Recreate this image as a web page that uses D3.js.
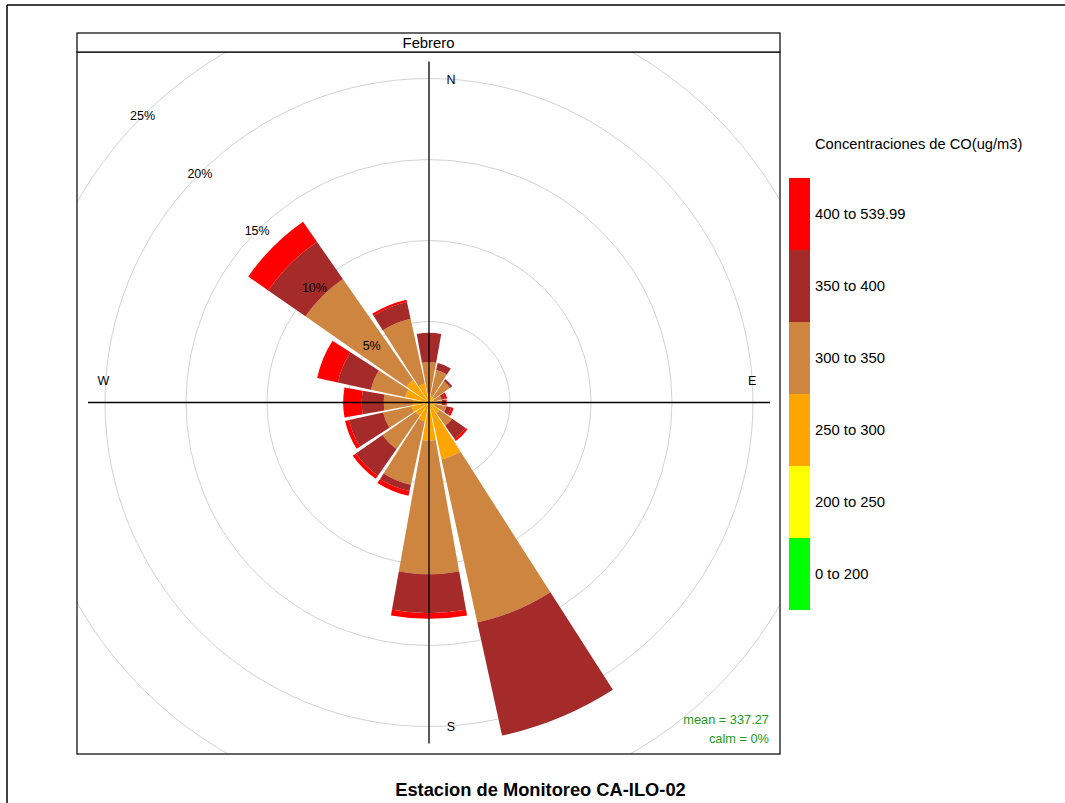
<!DOCTYPE html>
<html><head><meta charset="utf-8">
<script src="https://cdn.jsdelivr.net/npm/d3@7"></script>
<style>body{margin:0;background:#fff}svg{display:block;font-family:"Liberation Sans",Arial,sans-serif}</style>
</head><body><svg id="c" width="1065" height="803"></svg>
<script>
// ---- data (percent of time, per concentration band, per direction) ----
const directions = [0, 22.5, 45, 67.5, 90, 112.5, 135, 157.5, 180, 202.5, 225, 247.5, 270, 292.5, 315, 337.5];
const bandLabels = ["0 to 200", "200 to 250", "250 to 300", "300 to 350", "350 to 400", "400 to 539.99"];
const bandColors = ["#00FF00", "#FFFF00", "#FFA500", "#CD853F", "#A52A2A", "#FF0000"];
const band0to200   = [0,0,0,0,0,0,0,0,0,0,0,0,0,0,0,0];
const band200to250 = [0,0,0,0,0,0,0,0,0,0,0,0,0,0,0,0];
const band250to300 = [0.5,0.4,0.4,0.3,0.3,0.4,0.8,3.6,2.35,1.2,1.0,1.1,1.0,1.5,1.7,1.2];
const band300to350 = [2.0,1.65,1.2,0.5,0.5,0.7,0.95,10.3,8.25,4.0,2.5,1.8,1.8,2.17,7.6,4.1];
const band350to400 = [1.8,0.45,0.15,0.2,0.25,0.3,1.0,7.15,2.4,0.4,2.0,2.15,1.35,2.09,2.8,1.05];
const band400to540 = [0,0,0,0.15,0.05,0.15,0.15,0,0.35,0.3,0.24,0.25,1.15,1.31,1.5,0.15];
const gridValues = [5, 10, 15, 20, 25];
const compassLabels = ["N", "E", "S", "W"];
const panelTitle = "Febrero";
const legendTitle = "Concentraciones de CO(ug/m3)";
const mainTitle = "Estacion de Monitoreo CA-ILO-02";
const meanText = "mean = 337.27";
const calmText = "calm = 0%";

const bands = [band0to200, band200to250, band250to300, band300to350, band350to400, band400to540];

// ---- layout ----
const svg = d3.select("#c");
const P = {x0: 77, x1: 780, y0: 52, y1: 754, stripTop: 33};
const cx = 429, cy = 402.5;
const r = d3.scaleLinear().domain([0, 25]).range([0, 405]);
const segFrac = 0.9, sector = 22.5;
const rad = d => d * Math.PI / 180;

// outer frame
svg.append("line").attr("x1", 7).attr("x2", 1065).attr("y1", 5).attr("y2", 5).attr("stroke", "#000").attr("stroke-width", 1.5);
svg.append("line").attr("x1", 7).attr("x2", 7).attr("y1", 5).attr("y2", 803).attr("stroke", "#000").attr("stroke-width", 1.5);

svg.append("defs").append("clipPath").attr("id", "pc")
  .append("rect").attr("x", P.x0).attr("y", P.y0).attr("width", P.x1 - P.x0).attr("height", P.y1 - P.y0);
const g = svg.append("g").attr("clip-path", "url(#pc)");

// grid circles
g.selectAll("circle.grid").data(gridValues).join("circle")
  .attr("cx", cx).attr("cy", cy).attr("r", d => r(d))
  .attr("fill", "none").attr("stroke", "#D3D3D3").attr("stroke-width", 1);

// stacked petals
const arc = d3.arc();
const segs = [];
directions.forEach((dir, i) => {
  let cum = 0;
  bands.forEach((b, k) => {
    const v = b[i];
    if (v > 0) {
      segs.push({dir, inner: cum, outer: cum + v, color: bandColors[k]});
    }
    cum += v;
  });
});
g.selectAll("path.petal").data(segs).join("path")
  .attr("transform", `translate(${cx},${cy})`)
  .attr("d", d => arc({innerRadius: r(d.inner), outerRadius: r(d.outer),
      startAngle: rad(d.dir - sector * segFrac / 2), endAngle: rad(d.dir + sector * segFrac / 2)}))
  .attr("fill", d => d.color);

// axes
const totals = directions.map((_, i) => d3.sum(bands, b => b[i]));
const maxT = d3.max(totals);
g.append("line").attr("x1", cx - r(maxT)).attr("x2", cx + r(maxT)).attr("y1", cy).attr("y2", cy).attr("stroke", "#000").attr("stroke-width", 1.3);
g.append("line").attr("x1", cx).attr("x2", cx).attr("y1", cy - r(maxT)).attr("y2", cy + r(maxT)).attr("stroke", "#000").attr("stroke-width", 1.3);

// percent labels along 315 deg
g.selectAll("text.pct").data(gridValues).join("text")
  .attr("x", d => cx + r(d) * Math.sin(rad(315)))
  .attr("y", d => cy - r(d) * Math.cos(rad(315)))
  .attr("text-anchor", "middle").attr("dy", "0.35em")
  .attr("font-size", 12.5).attr("fill", "#000").text(d => d + "%");

// compass labels
const cpos = [[22, -r(19.9)], [r(19.95), -22], [22, r(20)], [-r(20.1), -22]];
g.selectAll("text.cmp").data(compassLabels).join("text")
  .attr("x", (d, i) => cx + cpos[i][0]).attr("y", (d, i) => cy + cpos[i][1])
  .attr("text-anchor", "middle").attr("dy", "0.35em").attr("font-size", 12.5).text(d => d);

// mean / calm
svg.append("text").attr("x", 769).attr("y", 724).attr("text-anchor", "end").attr("font-size", 12.8).attr("fill", "#229922").text(meanText);
svg.append("text").attr("x", 769).attr("y", 743).attr("text-anchor", "end").attr("font-size", 12.8).attr("fill", "#229922").text(calmText);

// panel & strip
svg.append("rect").attr("x", P.x0).attr("y", P.y0).attr("width", P.x1 - P.x0).attr("height", P.y1 - P.y0)
  .attr("fill", "none").attr("stroke", "#000").attr("stroke-width", 1.2);
svg.append("rect").attr("x", P.x0).attr("y", P.stripTop).attr("width", P.x1 - P.x0).attr("height", P.y0 - P.stripTop)
  .attr("fill", "#fff").attr("stroke", "#000").attr("stroke-width", 1.2);
svg.append("text").attr("x", (P.x0 + P.x1) / 2).attr("y", (P.stripTop + P.y0) / 2).attr("dy", "0.35em")
  .attr("text-anchor", "middle").attr("font-size", 14.8).text(panelTitle);

// legend
const ly = d3.scaleBand().domain(d3.range(bandLabels.length).reverse()).range([178, 610]);
svg.append("text").attr("x", 815).attr("y", 149).attr("font-size", 14.7).text(legendTitle);
svg.selectAll("rect.key").data(d3.range(bandLabels.length)).join("rect")
  .attr("x", 789).attr("y", d => ly(d)).attr("width", 21).attr("height", ly.bandwidth())
  .attr("fill", d => bandColors[d]);
svg.selectAll("text.key").data(d3.range(bandLabels.length)).join("text")
  .attr("x", 815).attr("y", d => ly(d) + ly.bandwidth() / 2).attr("dy", "0.35em")
  .attr("font-size", 14.8).text(d => bandLabels[d]);

// main title
svg.append("text").attr("x", 540.5).attr("y", 796).attr("text-anchor", "middle")
  .attr("font-size", 18.3).attr("font-weight", "bold").text(mainTitle);
</script></body></html>
